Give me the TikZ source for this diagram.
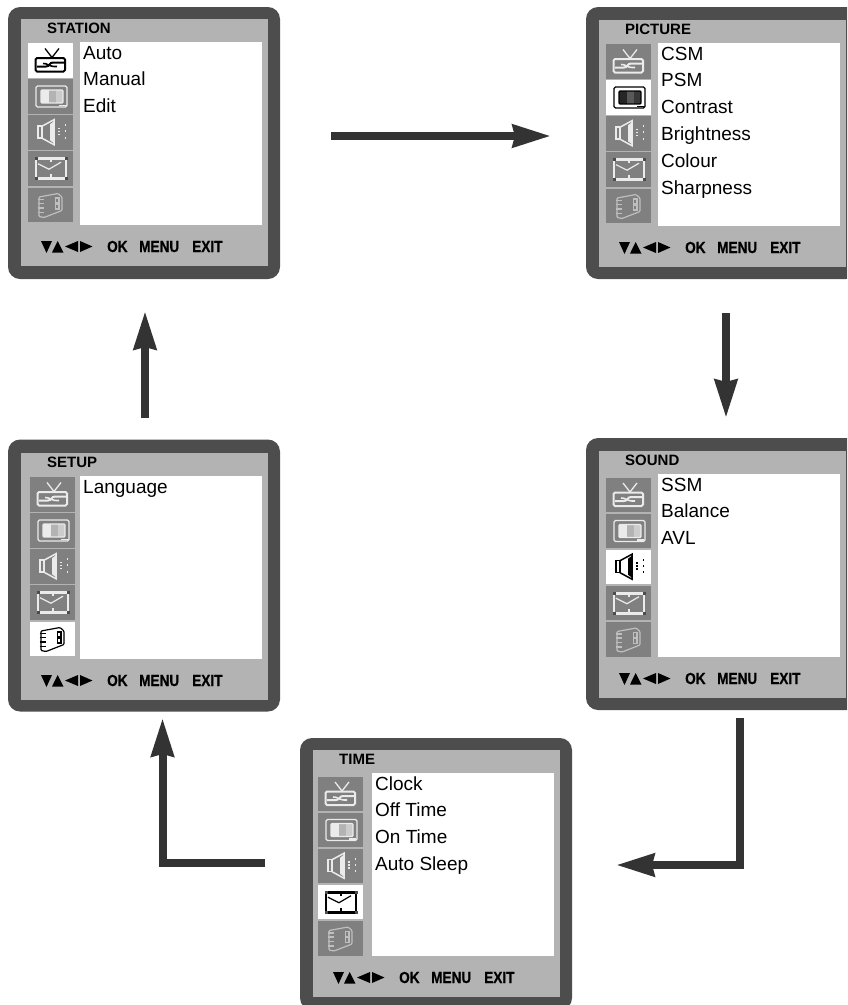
\documentclass[tikz,border=0pt]{standalone}
\usepackage{fontspec}
\setmainfont{Liberation Sans}
\newfontfamily\narrowbold[FakeStretch=0.85,FakeBold=0.6]{Liberation Sans Bold}
\usetikzlibrary{arrows.meta}
\definecolor{frameC}{HTML}{4D4D4D}
\definecolor{innerC}{HTML}{B3B3B3}
\definecolor{iconC}{HTML}{808080}
\definecolor{arrowC}{HTML}{333333}
\tikzset{
  frameN/.style={fill=frameC,rounded corners=12pt,minimum width=272pt,minimum height=272pt,inner sep=0pt,outer sep=0pt,anchor=north west},
  innerN/.style={fill=innerC,minimum width=247pt,minimum height=247pt,inner sep=0pt,outer sep=0pt,anchor=north west},
  listN/.style={fill=white,minimum width=182pt,minimum height=183pt,inner sep=0pt,outer sep=0pt,anchor=north west},
  titleN/.style={inner sep=0pt,anchor=base west,font=\fontsize{15}{15}\selectfont\bfseries},
  itemN/.style={inner sep=0pt,anchor=base west,font=\fontsize{19}{19}\selectfont},
  keyN/.style={inner sep=0pt,anchor=base west,font=\fontsize{16}{16}\selectfont\narrowbold},
  flow/.style={draw=arrowC,line width=8pt,-{Stealth[length=38pt,width=22pt,inset=2pt,fill=arrowC]}},
}
% #1 index, #2 x, #3 y, #4 active (1/0)
\newcommand{\panelicon}[4]{%
  \begin{scope}[shift={(#2,#3)}]
    \ifnum#4=1
      \colorlet{ic}{black}\colorlet{icb}{white}\colorlet{bandA}{black!85}\colorlet{bandB}{black!65}\colorlet{bandC}{black!78}\colorlet{icd}{black}
    \else
      \colorlet{ic}{white!92!black}\colorlet{icb}{iconC}\colorlet{bandA}{white!92!black}\colorlet{bandB}{innerC}\colorlet{bandC}{white!80!black}\colorlet{icd}{white!75!black}
    \fi
    \fill[icb] (0,0) rectangle (45,34.5);
    \ifcase#1
    \or % tv
      \draw[ic,line width=2pt,rounded corners=1.5pt] (7.5,15) rectangle (37,28.5);
      \draw[ic,line width=1.3pt] (17,5.5) -- (24,14.5) -- (31,5.5);
      \draw[ic,line width=2pt] (9,23.5) -- (18,23.5) .. controls (22,23.5) and (21,19.5) .. (25,19.5) -- (36,19.5);
      \draw[ic,line width=1.6pt] (15,20.5) .. controls (20,20) and (20,24) .. (29,23.5);
    \or % picture
      \draw[ic,line width=1.2pt,rounded corners=1.5pt] (8,7) rectangle (39,28);
      \fill[bandA] (13,11) rectangle (21,24);
      \fill[bandB] (21,11) rectangle (28,24);
      \fill[bandC] (28,11) rectangle (35,24);
      \draw[ic,line width=1.2pt,rounded corners=1pt] (13,11) rectangle (35,24);
      \draw[ic,line width=1.4pt] (31,26.5) -- (38,26.5);
    \or % speaker
      \draw[ic,line width=1.5pt] (10,11) rectangle (14,23);
      \draw[ic,line width=1.5pt] (14,11) -- (26,4.5) -- (26,29.5) -- (14,23);
      \fill[ic] (22,9) -- (26,6) -- (26,28) -- (22,25) -- cycle;
      \foreach \yy in {12.5,15.5,18.5}{\fill[ic] (30,\yy) rectangle (32,\yy+1.5);}
      \foreach \yy in {9,15,21.5}{\fill[ic] (36.5,\yy) rectangle (38.3,\yy+1.8);}
    \or % clock
      \draw[ic,line width=2.6pt] (8,7.5) -- (38,7.5);
      \draw[ic,line width=2.6pt] (8,27.5) -- (38,27.5);
      \draw[ic,line width=1.4pt] (8,7.5) -- (8,27.5);
      \draw[ic,line width=1.4pt] (38,7.5) -- (38,27.5);
      \draw[ic,line width=1.2pt] (10,12.5) -- (21,18) -- (33,11);
      \foreach \cx/\cy in {8/7.5,38/7.5,8/27.5,38/27.5}{\fill[black!70] (\cx-1.5,\cy-1.5) rectangle (\cx+1.5,\cy+1.5);}
      \draw[ic,line width=1.2pt] (23,9) -- (23,11);
      \draw[ic,line width=1.2pt] (23,23) -- (23,26);
    \or % book
      \draw[icd,line width=1.2pt,rounded corners=1pt] (11,9.5) -- (30,6) -- (34,9.5) -- (34,23) -- (16,30) -- (11,29) -- cycle;
      \foreach \yy in {12,16,20.5,25}{\draw[icd,line width=1.1pt] (9.5,\yy) -- (16,\yy);}
      \draw[icd,line width=1.2pt] (27.5,10.5) rectangle (31,15.5);
      \draw[icd,line width=1.2pt] (27.5,16.5) rectangle (31,21.5);
    \fi
  \end{scope}%
}
% #1 name, #2 dx, #3 frame dy, #4 dy, #5 icon dx, #6 icon dy, #7 title, #8 active, #9 items
\newcommand{\menupanel}[9]{%
  \node[frameN] (#1-frame) at (8+#2,7+#3) {};
  \node[innerN] (#1-inner) at (21+#2,19+#4) {};
  \node[listN] (#1-list) at (80+#2,42+#4) {};
  \node[titleN] (#1-title) at (47+#2,33.5+#4) {#7};
  \foreach \ii/\iy in {1/43,2/79,3/115.2,4/151.2,5/187.5}{%
    \ifnum\ii=#8\relax
      \panelicon{\ii}{28+#2+#5}{\iy+#4+#6}{1}%
    \else
      \panelicon{\ii}{28+#2+#5}{\iy+#4+#6}{0}%
    \fi
  }
  \foreach \tt [count=\nn] in {#9}{%
    \node[itemN] (#1-item-\nn) at (83+#2,59+#4+26.85*\nn-26.85) {\tt};
  }
  \fill (41+#2,241+#4) -- (52+#2,241+#4) -- (46.5+#2,253+#4) -- cycle;
  \fill (52+#2,252.5+#4) -- (63.5+#2,252.5+#4) -- (57.7+#2,241+#4) -- cycle;
  \fill (65+#2,246.5+#4) -- (78+#2,241+#4) -- (78+#2,252+#4) -- cycle;
  \fill (92.5+#2,246.5+#4) -- (80+#2,241+#4) -- (80+#2,252+#4) -- cycle;
  \node[keyN] (#1-ok) at (107+#2,252+#4) {OK};
  \node[keyN] (#1-menu) at (139+#2,252+#4) {MENU};
  \node[keyN] (#1-exit) at (192+#2,252+#4) {EXIT};
}
\begin{document}
\begin{tikzpicture}[x=1pt,y=-1pt]
  \useasboundingbox (0,0) rectangle (847,1005);
  \clip (0,0) rectangle (847,1005);
  \fill[white] (0,0) rectangle (847,1005);
  \menupanel{station}{0}{0}{0}{0}{0}{STATION}{1}{Auto,Manual,Edit}
  \menupanel{picture}{578}{0}{1}{0}{0}{PICTURE}{2}{CSM,PSM,Contrast,Brightness,Colour,Sharpness}
  \menupanel{sound}{578}{431}{432}{0}{2.5}{SOUND}{3}{SSM,Balance,AVL}
  \menupanel{time}{292}{731}{731}{-2}{2.5}{TIME}{4}{Clock,Off Time,On Time,Auto Sleep}
  \menupanel{setup}{0}{432.5}{434}{2}{0}{SETUP}{5}{Language}
  \coordinate (a1s) at (331,136); \coordinate (a1e) at (551,136);
  \coordinate (a2s) at (726,313); \coordinate (a2e) at (726,418);
  \coordinate (a3s) at (739.5,718); \coordinate (a3c) at (739.5,865); \coordinate (a3e) at (616,865);
  \coordinate (a4s) at (265,863); \coordinate (a4c) at (162.5,863); \coordinate (a4e) at (162.5,718);
  \coordinate (a5s) at (145,418); \coordinate (a5e) at (145,311);
  \draw[flow] (a1s) -- (a1e);
  \draw[flow] (a2s) -- (a2e);
  \draw[flow] (a3s) -- (a3c) -- (a3e);
  \draw[flow] (a4s) -- (a4c) -- (a4e);
  \draw[flow] (a5s) -- (a5e);
\end{tikzpicture}
\end{document}
